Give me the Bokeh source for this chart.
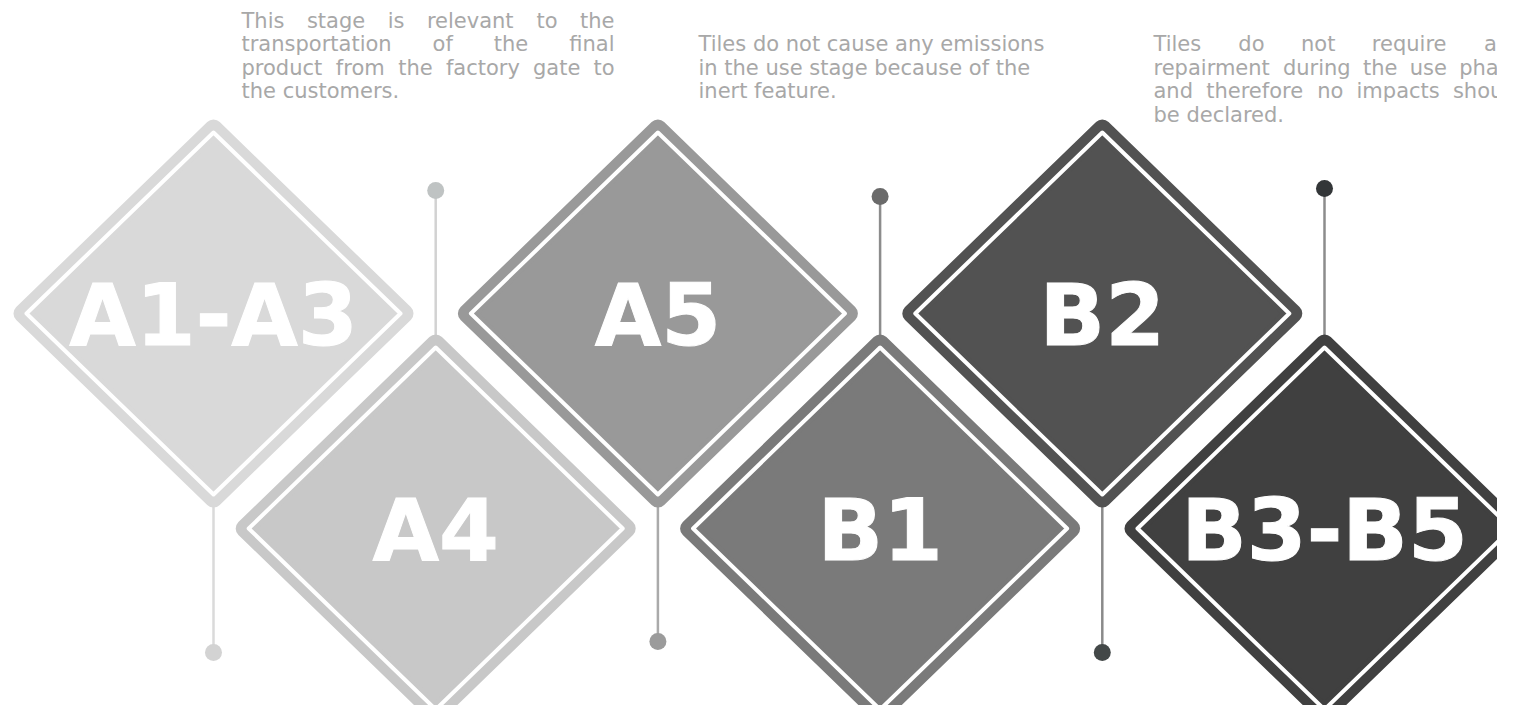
from bokeh.plotting import figure
from bokeh.models import ColumnDataSource, Range1d
from bokeh.core.properties import value
from bokeh.embed import file_html
from bokeh.resources import INLINE

# ---------------- data ----------------
labels = ["A1-A3", "A4", "A5", "B1", "B2", "B3-B5"]
fill_colors = ["#d9d9d9", "#c8c8c8", "#999999", "#7a7a7a", "#525252", "#404040"]
rows = [0, 1, 0, 1, 0, 1]          # 0 = upper row, 1 = lower row
pin_circle_colors = ["#d3d3d3", "#bfc3c3", "#9b9b9b", "#6a6a6a", "#434848", "#333638"]
pin_line_colors = ["#dadada", "#d2d2d2", "#aaaaaa", "#8c8c8c", "#8a8a8a", "#8c8c8c"]
pin_reach = [652, 190, 641, 196, 652, 188]   # y of pin head

para1 = ["This stage is relevant to the",
         "transportation of the final",
         "product from the factory gate to",
         "the customers."]
para2 = ["Tiles do not cause any emissions",
         "in the use stage because of the",
         "inert feature."]
para3 = ["Tiles do not require any",
         "repairment during the use phase",
         "and therefore no impacts should",
         "be declared."]

# ---------------- layout ----------------
W, H = 1497, 705
p = figure(width=W, height=H, output_backend="svg", toolbar_location=None,
           x_range=Range1d(0, W), y_range=Range1d(H, 0),
           min_border=0, background_fill_color="white", border_fill_color="white")
p.axis.visible = False
p.grid.visible = False
p.outline_line_color = None

X0, STEP = 213, 222.2
ROW_Y = [313, 528]
RX, RY = 200, 194        # outer half diagonals
BAND = 9

cxs = [X0 + i * STEP for i in range(len(labels))]
cys = [ROW_Y[r] for r in rows]

# pins (behind diamonds)
for i in range(len(labels)):
    cx, cy = cxs[i], cys[i]
    if rows[i] == 0:
        y_start = cy + RY - 2
    else:
        y_start = cy - RY + 2
    p.line([cx, cx], [y_start, pin_reach[i]], line_color=pin_line_colors[i], line_width=2.5)
    p.scatter([cx], [pin_reach[i]], size=17, marker="circle",
              fill_color=pin_circle_colors[i], line_color=None)

# diamonds
oxs, oys, ixs, iys = [], [], [], []
for i in range(len(labels)):
    cx, cy = cxs[i], cys[i]
    a, b = RX - BAND, RY - BAND
    oxs.append([cx, cx + a, cx, cx - a])
    oys.append([cy - b, cy, cy + b, cy])
    a2, b2 = RX - 13, RY - 13
    ixs.append([cx, cx + a2, cx, cx - a2])
    iys.append([cy - b2, cy, cy + b2, cy])

dsrc = ColumnDataSource(dict(xs=oxs, ys=oys, ixs=ixs, iys=iys, color=fill_colors))
p.patches("xs", "ys", source=dsrc, fill_color="color", line_color="color",
          line_width=2 * BAND, line_join="round")
p.patches("ixs", "iys", source=dsrc, fill_color=None, line_color="white",
          line_width=4, line_join="round")

lsrc = ColumnDataSource(dict(x=cxs, y=[c + 1 for c in cys], t=labels))
p.text("x", "y", text="t", source=lsrc, text_color="white",
       text_outline_color="white",
       text_font=value("DejaVu Sans"), text_font_style="bold",
       text_font_size="86px", text_align="center", text_baseline="middle")

# ---------------- paragraphs ----------------
CW = {'a': .613, 'b': .635, 'c': .550, 'd': .635, 'e': .615, 'f': .352, 'g': .635,
      'h': .634, 'i': .278, 'j': .278, 'k': .579, 'l': .278, 'm': .974, 'n': .634,
      'o': .612, 'p': .635, 'q': .635, 'r': .411, 's': .521, 't': .392, 'u': .634,
      'v': .592, 'w': .818, 'x': .592, 'y': .592, 'z': .525, ' ': .318, '.': .318,
      'T': .611, 'I': .295}
FS = 21
def wpx(s):
    return sum(CW.get(c, 0.65) for c in s) * FS

LINE_H = 23.5
TEXT_COLOR = "#a8a8a8"
wx, wy, wt, wal = [], [], [], []

def add_para(lines, left, right, top_y, justify):
    for k, line in enumerate(lines):
        y = top_y + k * LINE_H
        words = line.split(" ")
        last = (k == len(lines) - 1)
        if justify and not last and len(words) > 1:
            widths = [wpx(w) for w in words]
            gap = (right - left - sum(widths)) / (len(words) - 1)
            x = left
            for j, w in enumerate(words):
                if j == len(words) - 1:
                    wx.append(right); wal.append("right")
                else:
                    wx.append(x); wal.append("left")
                wy.append(y); wt.append(w)
                x += widths[j] + gap
        else:
            wx.append(left); wy.append(y); wt.append(line); wal.append("left")

add_para(para1, 241, 614, 20, True)
add_para(para2, 698, 1075, 43.5, False)
add_para(para3, 1153, 1522, 43.5, True)

tsrc = ColumnDataSource(dict(x=wx, y=wy, t=wt, al=wal))
p.text("x", "y", text="t", source=tsrc, text_color=TEXT_COLOR,
       text_font=value("DejaVu Sans"), text_font_size=f"{FS}px",
       text_align="al", text_baseline="middle")

open("out.html", "w").write(file_html(p, INLINE))
